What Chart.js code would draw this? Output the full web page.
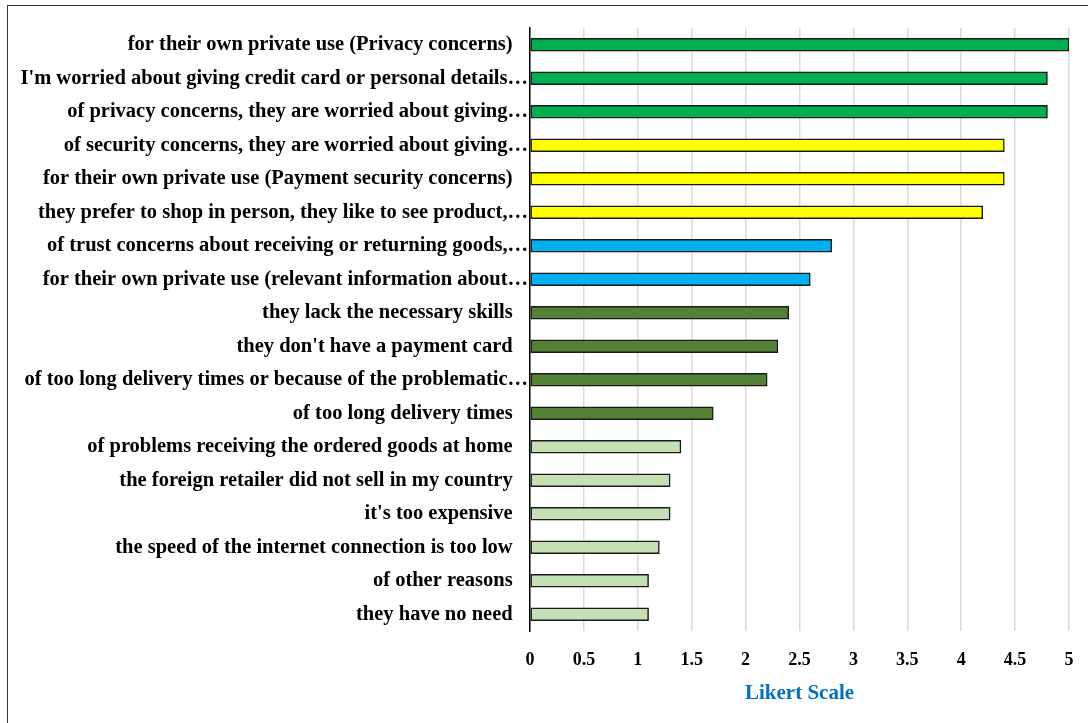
<!DOCTYPE html>
<html>
<head>
<meta charset="utf-8">
<script src="https://cdn.jsdelivr.net/npm/chart.js@4"></script>
<style>
  html, body { margin: 0; padding: 0; background: #fff; overflow: hidden; }
  #frame { position: absolute; left: 7px; top: 5px; width: 1200px; height: 800px; border: 1.5px solid #333; }
  #wrap { position: absolute; left: 0; top: 0; width: 1088px; height: 723px; }
</style>
</head>
<body>
<div id="frame"></div>
<div id="wrap"><canvas id="likert_canvas"></canvas></div>
<script>
const reasons = [
    'for their own private use (Privacy concerns)   ',
    "I'm worried about giving credit card or personal details\u2026",
    'of privacy concerns, they are worried about giving\u2026',
    'of security concerns, they are worried about giving\u2026',
    'for their own private use (Payment security concerns)   ',
    'they prefer to shop in person, they like to see product,\u2026',
    'of trust concerns about receiving or returning goods,\u2026',
    'for their own private use (relevant information about\u2026',
    'they lack the necessary skills   ',
    "they don't have a payment card   ",
    'of too long delivery times or because of the problematic\u2026',
    'of too long delivery times   ',
    'of problems receiving the ordered goods at home   ',
    'the foreign retailer did not sell in my country   ',
    "it's too expensive   ",
    'the speed of the internet connection is too low   ',
    'of other reasons   ',
    'they have no need   '
];

const likertValues = [5, 4.8, 4.8, 4.4, 4.4, 4.2, 2.8, 2.6, 2.4, 2.3, 2.2, 1.7, 1.4, 1.3, 1.3, 1.2, 1.1, 1.1];

const barColors = [
    '#00B050', '#00B050', '#00B050',
    '#FFFF00', '#FFFF00', '#FFFF00',
    '#00B0F0', '#00B0F0',
    '#548235', '#548235', '#548235', '#548235',
    '#C5E0B4', '#C5E0B4', '#C5E0B4', '#C5E0B4', '#C5E0B4', '#C5E0B4'
];

const xTicks = [0, 0.5, 1, 1.5, 2, 2.5, 3, 3.5, 4, 4.5, 5];

const serif = "'Liberation Serif', 'Times New Roman', serif";

const ctx = document.getElementById('likert_canvas');

new Chart(ctx, {
    type: 'bar',
    data: {
        labels: reasons,
        datasets: [{
            label: 'Likert Scale',
            data: likertValues,
            backgroundColor: barColors,
            borderColor: '#1a1a1a',
            borderWidth: 1.5,
            borderSkipped: false,
            barThickness: 13
        }]
    },
    options: {
        indexAxis: 'y',
        responsive: true,
        maintainAspectRatio: false,
        animation: false,
        layout: {
            padding: { left: 8, right: 19, top: 28, bottom: 0 }
        },
        plugins: {
            legend: { display: false },
            tooltip: { enabled: false }
        },
        scales: {
            x: {
                min: 0,
                max: 5,
                afterBuildTicks: (scale) => { scale.ticks = xTicks.map(v => ({ value: v })); },
                afterFit: (scale) => {
                    scale.height = 92;
                    scale.paddingLeft = 0;
                    scale.paddingRight = 0;
                },
                grid: { color: '#d9d9d9', lineWidth: 1.5, drawTicks: false },
                border: { display: false },
                ticks: {
                    padding: 19,
                    color: '#000',
                    callback: (v) => String(v),
                    font: { family: serif, size: 18, weight: 'bold' }
                },
                title: {
                    display: true,
                    text: 'Likert Scale',
                    color: '#0070C0',
                    padding: { top: 0, bottom: 17 },
                    font: { family: serif, size: 21, weight: 'bold' }
                }
            },
            y: {
                afterFit: (scale) => { scale.width = 522; },
                grid: { display: false, drawTicks: false },
                border: { display: true, color: '#000', width: 1.5 },
                ticks: {
                    padding: 2,
                    color: '#000',
                    autoSkip: false,
                    font: { family: serif, size: 20.5, weight: 'bold' }
                }
            }
        }
    }
});
</script>
</body>
</html>
